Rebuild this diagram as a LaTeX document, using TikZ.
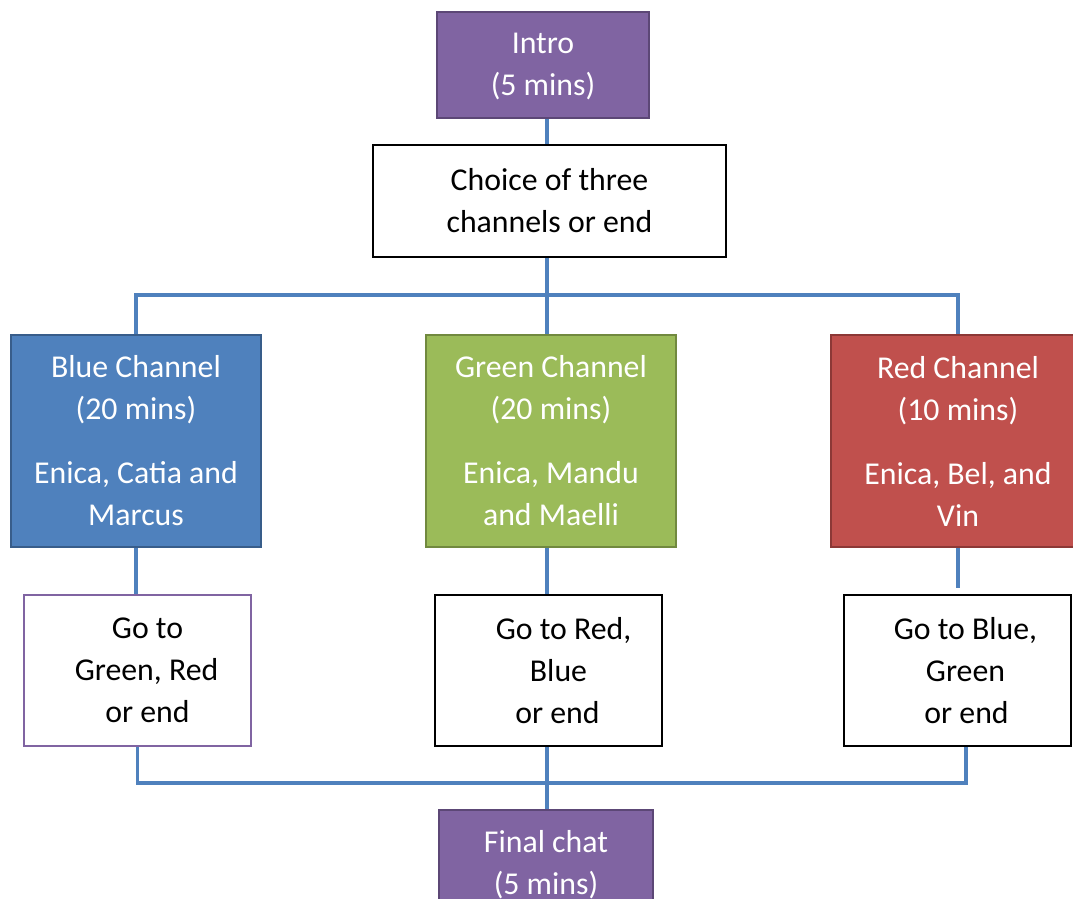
\documentclass[tikz,border=0pt]{standalone}
\usepackage{fontspec}
\setmainfont{Carlito}
\definecolor{cpurple}{HTML}{8064A2}
\definecolor{cpurpleb}{HTML}{5C4776}
\definecolor{cblue}{HTML}{4F81BD}
\definecolor{cblueb}{HTML}{385D8A}
\definecolor{cgreen}{HTML}{9BBB59}
\definecolor{cgreenb}{HTML}{71893F}
\definecolor{cred}{HTML}{C0504D}
\definecolor{credb}{HTML}{8C3836}
\tikzset{
  box/.style={rectangle, line width=2pt, align=center, inner sep=0pt,
    font=\fontsize{31.8}{42}\selectfont},
  purplebox/.style={box, fill=cpurple, draw=cpurpleb, text=white},
  chanbox/.style={box, text=white},
  whitebox/.style={box, fill=white, draw=black, text=black},
  conn/.style={draw=cblue, line width=3.5pt}
}
\begin{document}
\begin{tikzpicture}[x=1pt,y=-1pt]
\useasboundingbox (0,0) rectangle (1073,899);
\clip (0,0) rectangle (1073,899);
\fill[white] (0,0) rectangle (1073,899);

\node[purplebox, minimum width=212pt, minimum height=106pt, text depth=2pt] (intro) at (543,65) {Intro\\(5 mins)};
\node[whitebox, minimum width=353pt, minimum height=112pt] (choice) at (549.5,201) {Choice of three\\channels or end};

\node[chanbox, fill=cblue, draw=cblueb, minimum width=250pt, minimum height=212pt] (blue) at (136,441)
  {Blue Channel\\(20 mins)\\[22pt]Enica, Catia and\\Marcus};
\node[chanbox, fill=cgreen, draw=cgreenb, minimum width=250pt, minimum height=212pt] (green) at (551,441)
  {Green Channel\\(20 mins)\\[22pt]Enica, Mandu\\and Maelli};
\node[chanbox, fill=cred, draw=credb, minimum width=254pt, minimum height=212pt] (red) at (958,441)
  {Red Channel\\(10 mins)\\[22pt]Enica, Bel, and\\Vin};

\node[whitebox, draw=cpurple, minimum width=227pt, minimum height=151pt] (bgo) at (137.5,670.5)
  {\hspace*{20pt}Go to\\\hspace*{18pt}Green, Red\\\hspace*{20pt}or end};
\node[whitebox, minimum width=227pt, minimum height=151pt] (ggo) at (548.5,670.5)
  {\hspace*{30pt}Go to Red,\\\hspace*{20pt}Blue\\\hspace*{18pt}or end};
\node[whitebox, minimum width=227pt, minimum height=151pt] (rgo) at (957.5,670.5)
  {\hspace*{16pt}Go to Blue,\\\hspace*{16pt}Green\\\hspace*{18pt}or end};

\node[purplebox, minimum width=214pt, minimum height=110pt] (final) at (546,865) {Final chat\\(5 mins)};

\coordinate (jtop) at (547,295);
\coordinate (jbot) at (547,783);

% top connectors
\draw[conn] (intro.south -| jtop) -- (choice.north -| jtop);
\draw[conn] (choice.south -| jtop) -- (jtop);
\draw[conn] (jtop) -| (blue.north);
\draw[conn] (jtop) -| (red.north);
\draw[conn] (jtop) -- (green.north -| jtop);

% channel to go boxes
\draw[conn] (blue.south) -- (bgo.north -| blue.south);
\draw[conn] (green.south -| jtop) -- (ggo.north -| jtop);
\draw[conn, shorten >=6pt] (red.south) -- (rgo.north -| red.south);

% go boxes to final
\draw[conn] (bgo.south) -- (bgo.south |- jbot) -- ([xshift=8.5pt]rgo.south |- jbot) -- ([xshift=8.5pt]rgo.south);
\draw[conn] (ggo.south -| jbot) -- (final.north -| jbot);
\end{tikzpicture}
\end{document}
